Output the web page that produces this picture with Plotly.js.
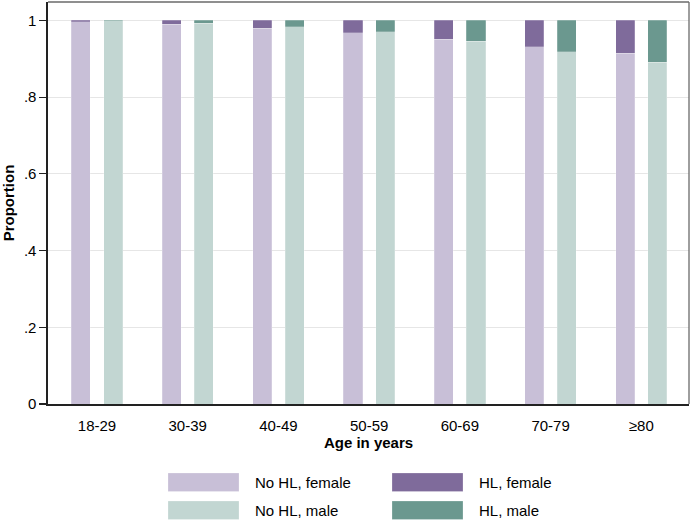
<!DOCTYPE html>
<html><head><meta charset="utf-8">
<script src="https://cdn.plot.ly/plotly-3.0.1.min.js"></script>
<style>html,body{margin:0;padding:0;background:#fff}#chart{width:692px;height:522px}</style>
</head><body><div id="chart"></div>
<script>
// ---- data ----
const categories = ['18-29', '30-39', '40-49', '50-59', '60-69', '70-79', '≥80'];
const noHL_female = [0.996, 0.990, 0.979, 0.968, 0.951, 0.932, 0.914];
const HL_female   = [0.004, 0.010, 0.021, 0.032, 0.049, 0.068, 0.086];
const noHL_male   = [0.999, 0.993, 0.984, 0.970, 0.946, 0.918, 0.891];
const HL_male     = [0.001, 0.007, 0.016, 0.030, 0.054, 0.082, 0.109];
const seriesNames = ['No HL, female', 'HL, female', 'No HL, male', 'HL, male'];
const yTickVals = [0, 0.2, 0.4, 0.6, 0.8, 1];
const yTickText = ['0', '.2', '.4', '.6', '.8', '1'];

// ---- styles ----
const colors = ['#c8bfd7', '#7f6b9b', '#c2d6d2', '#6b988f'];
const FONT = 'Liberation Sans, Arial, Helvetica, sans-serif';
const FS = 15;
const off = 0.178, bw = 0.21;

const idx = categories.map((c, i) => i);
const xF = idx.map(i => i - off);
const xM = idx.map(i => i + off);

function bar(x, y, k) {
  return {type: 'bar', x: x, y: y, name: seriesNames[k], width: bw,
    marker: {color: colors[k], line: {color: 'rgba(255,255,255,0.35)', width: 0.6}},
    showlegend: false, hoverinfo: 'y+name'};
}
const data = [
  bar(xF, noHL_female, 0), bar(xF, HL_female, 1),
  bar(xM, noHL_male, 2), bar(xM, HL_male, 3)
];

// plot area in pixels
const L = 48, R = 3, T = 2, B = 118, W = 692, H = 522;
const pw = W - L - R, ph = H - T - B;
const px = p => (p - L) / pw;
const py = p => (H - B - p) / ph;

const shapes = [
  {type: 'line', xref: 'paper', yref: 'paper', x0: 0, x1: 1, y0: 1, y1: 1, line: {color: '#6a6a6a', width: 1.3}},
  {type: 'line', xref: 'paper', yref: 'paper', x0: 1, x1: 1, y0: 0, y1: 1, line: {color: '#6a6a6a', width: 1.3}}
];
const annotations = [];
// legend (custom, wide swatches)
const legCols = [168, 392], legRows = [473, 501], swW = 71, swH = 18.5;
const legOrder = [[0, 1], [2, 3]]; // row -> series index per column
legRows.forEach((ry, r) => {
  legCols.forEach((cx, c) => {
    const k = legOrder[r][c];
    shapes.push({type: 'rect', xref: 'paper', yref: 'paper',
      x0: px(cx), x1: px(cx + swW), y0: py(ry), y1: py(ry + swH),
      fillcolor: colors[k], line: {color: 'rgba(255,255,255,0.4)', width: 0.6}});
    annotations.push({xref: 'paper', yref: 'paper', x: px(cx + swW + 13.5), y: py(ry + swH / 2),
      xanchor: 'left', yanchor: 'middle', showarrow: false, text: seriesNames[k],
      font: {family: FONT, size: FS, color: '#000'}});
  });
});

const layout = {
  width: W, height: H,
  margin: {l: L, r: R, t: T, b: B, pad: 0},
  paper_bgcolor: '#fff', plot_bgcolor: '#fff',
  barmode: 'stack', bargap: 0,
  showlegend: false,
  font: {family: FONT, size: FS, color: '#000'},
  xaxis: {
    range: [-0.54, 6.526], tickmode: 'array', tickvals: idx, ticktext: categories,
    ticks: 'outside', ticklen: 7, tickcolor: 'rgba(0,0,0,0)',
    showgrid: false, zeroline: false, showline: true, linecolor: '#222', linewidth: 1.6,
    tickfont: {family: FONT, size: FS, color: '#000'},
    title: {text: '<b>Age in years</b>', font: {family: FONT, size: FS, color: '#000'}, standoff: 3},
    fixedrange: true
  },
  yaxis: {
    range: [0, 1.048], tickmode: 'array', tickvals: yTickVals, ticktext: yTickText,
    ticks: 'outside', ticklen: 7, tickcolor: '#222', tickwidth: 1.2,
    showgrid: true, gridcolor: '#e6e6e6', gridwidth: 1.2,
    zeroline: false, showline: true, linecolor: '#222', linewidth: 1.6,
    tickfont: {family: FONT, size: FS, color: '#000'},
    title: {text: '<b>Proportion</b>', font: {family: FONT, size: FS, color: '#000'}, standoff: 7},
    fixedrange: true
  },
  shapes: shapes,
  annotations: annotations
};

Plotly.newPlot('chart', data, layout, {displayModeBar: false, staticPlot: true});
</script>
</body></html>
